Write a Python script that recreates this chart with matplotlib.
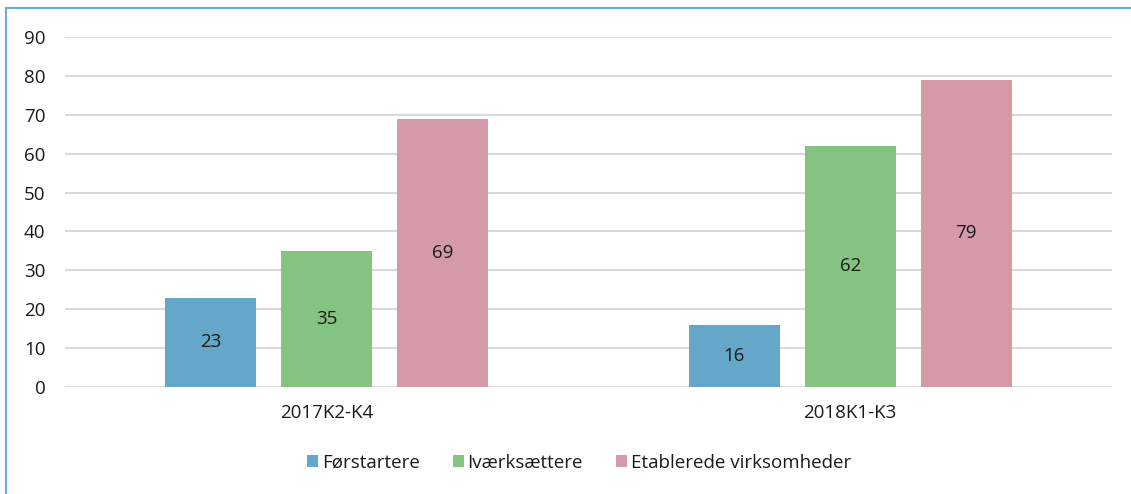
import matplotlib
matplotlib.use("Agg")
import matplotlib.pyplot as plt
from matplotlib.patches import Rectangle
import numpy as np

plt.rcParams['font.family'] = ['Open Sans', 'DejaVu Sans']

categories = ["2017K2-K4", "2018K1-K3"]
series_names = ["Førstartere", "Iværksættere", "Etablerede virksomheder"]
forstartere = [23, 16]
ivaerksaettere = [35, 62]
etablerede = [69, 79]
yticks = [0, 10, 20, 30, 40, 50, 60, 70, 80, 90]

colors = ["#65A7C8", "#85C380", "#D49AA8"]

W, H = 1131, 494
fig = plt.figure(figsize=(W / 100, H / 100), dpi=100)
ax = fig.add_axes([65 / W, 1 - 387 / H, (1112 - 65) / W, (387 - 37) / H])

FS = 13.5
x = np.arange(len(categories))
offsets = [-0.2216, 0.0, 0.2216]
width = 0.174
for vals, off, col, name in zip([forstartere, ivaerksaettere, etablerede], offsets, colors, series_names):
    bars = ax.bar(x + off, vals, width=width, color=col, label=name, zorder=3)
    for b, v in zip(bars, vals):
        ax.text(b.get_x() + b.get_width() / 2, v / 2, str(v), ha="center", va="center",
                fontsize=FS, color="#1a1a1a", zorder=4)

ax.set_xlim(-0.5, 1.5)
ax.set_ylim(0, 90)
ax.set_yticks(yticks)
ax.set_xticks(x)
ax.set_xticklabels(categories)
ax.tick_params(axis="both", length=0, labelsize=FS, labelcolor="#1a1a1a")
ax.tick_params(axis="y", pad=14)
ax.tick_params(axis="x", pad=12)
ax.grid(axis="y", color="#D9D9D9", linewidth=1.5, zorder=0)
for s in ax.spines.values():
    s.set_visible(False)

leg = fig.legend(loc="center", bbox_to_anchor=(579 / W, 1 - 463 / H), ncol=3, frameon=False,
                 fontsize=FS, handlelength=0.6, handleheight=0.6, handletextpad=0.2,
                 columnspacing=1.75)
for t in leg.get_texts():
    t.set_color("#1a1a1a")

border = Rectangle((6 / W, -0.5), 2.0, 0.5 + (1 - 8 / H), transform=fig.transFigure,
                   fill=False, edgecolor="#6AADD6", linewidth=1.5, clip_on=False)
fig.patches.append(border)

fig.savefig("out.png", dpi=100)
